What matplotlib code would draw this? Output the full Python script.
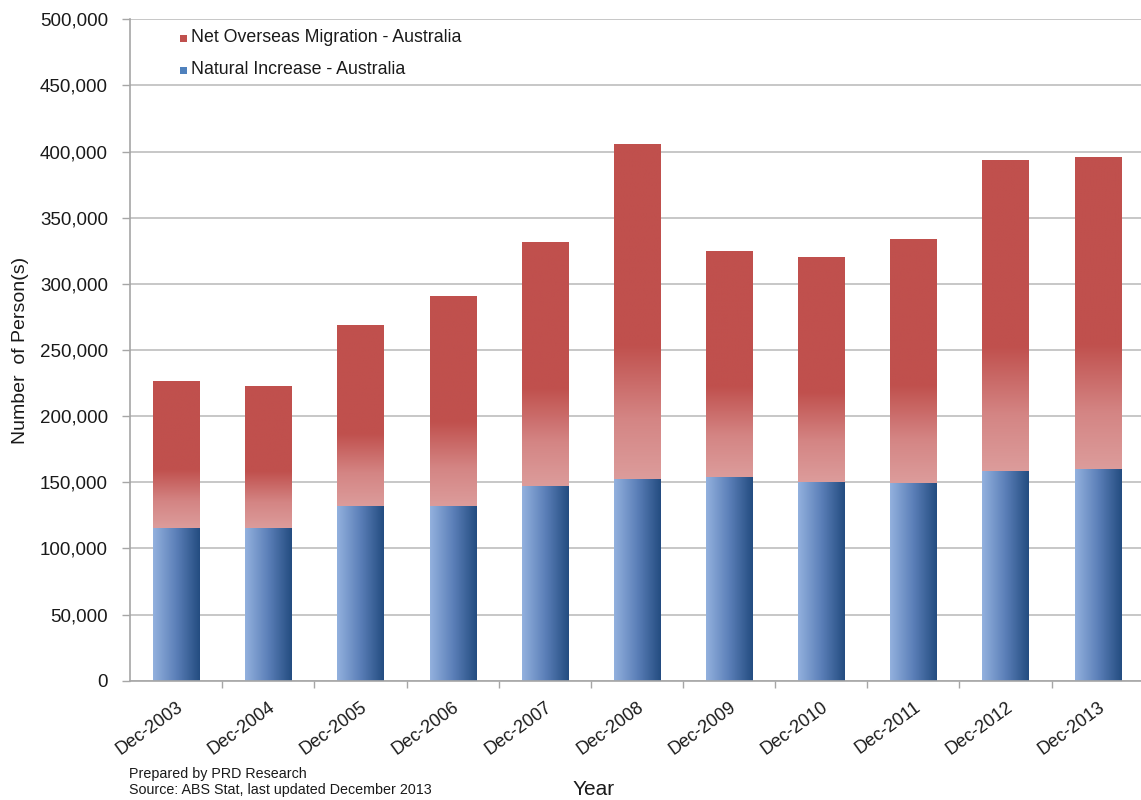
import numpy as np
import matplotlib
matplotlib.use("Agg")
import matplotlib.pyplot as plt
from matplotlib.colors import LinearSegmentedColormap
from matplotlib.patches import Rectangle
from matplotlib.ticker import FuncFormatter, FixedLocator

plt.rcParams['font.family'] = ['Liberation Sans', 'DejaVu Sans']

years = ["Dec-2003", "Dec-2004", "Dec-2005", "Dec-2006", "Dec-2007", "Dec-2008",
         "Dec-2009", "Dec-2010", "Dec-2011", "Dec-2012", "Dec-2013"]
natural_increase = [115600, 115600, 132200, 132000, 147300, 152600,
                    154000, 150300, 149500, 158600, 160100]
net_migration = [111000, 107200, 136700, 158800, 184300, 253000,
                 170800, 169900, 184300, 234900, 235700]

red_cmap = LinearSegmentedColormap.from_list(
    "nom", [(0.0, "#DC9C9B"), (0.18, "#D48584"), (0.40, "#C0504D"), (1.0, "#C0504D")])
blue_cmap = LinearSegmentedColormap.from_list(
    "nat", [(0.0, "#93B1DE"), (0.5, "#5B7FB8"), (1.0, "#234C80")])

fig = plt.figure(figsize=(11.41, 8.0), dpi=100)
ax = fig.add_axes([0.114, 0.149, 0.886, 0.827])

x = np.arange(len(years))
width = 0.5

ax.set_axisbelow(True)
ax.yaxis.grid(True, color="#BEBEBE", linewidth=1.2)

h_grad = np.linspace(0, 1, 256).reshape(1, -1)
v_grad = np.linspace(0, 1, 256).reshape(-1, 1)

for xi, nat, mig in zip(x, natural_increase, net_migration):
    x0, x1 = xi - width / 2, xi + width / 2
    # natural increase: horizontal light-to-dark blue gradient
    rb = Rectangle((x0, 0), width, nat, facecolor="none", edgecolor="none", zorder=2)
    ax.add_patch(rb)
    im = ax.imshow(h_grad, cmap=blue_cmap, extent=[x0, x1, 0, nat],
                   aspect="auto", origin="lower", zorder=2, interpolation="bilinear")
    im.set_clip_path(rb)
    # net overseas migration: vertical pink-to-red gradient
    rr = Rectangle((x0, nat), width, mig, facecolor="none", edgecolor="none", zorder=2)
    ax.add_patch(rr)
    im2 = ax.imshow(v_grad, cmap=red_cmap, extent=[x0, x1, nat, nat + mig],
                    aspect="auto", origin="lower", zorder=2, interpolation="bilinear")
    im2.set_clip_path(rr)

ax.set_xlim(-0.5, 10.47)
ax.set_ylim(0, 500000)
ax.yaxis.set_major_locator(FixedLocator(np.arange(0, 500001, 50000)))
ax.yaxis.set_major_formatter(FuncFormatter(lambda v, p: f"{int(v):,}"))

ax.set_xticks(x)
ax.set_xticklabels(years, rotation=36, ha="right", rotation_mode="anchor", fontsize=13,
                   color="#1A1A1A")
ax.tick_params(axis="x", which="major", length=0, pad=13)
ax.set_xticks(np.arange(0.5, 10.5, 1.0), minor=True)
ax.tick_params(axis="x", which="minor", length=5, color="#A6A6A6", width=1)
ax.tick_params(axis="y", labelsize=13.5, length=6, color="#A6A6A6", width=1, pad=10,
               labelcolor="#1A1A1A")

for side in ["top", "right"]:
    ax.spines[side].set_visible(False)
for side in ["left", "bottom"]:
    ax.spines[side].set_color("#A6A6A6")
    ax.spines[side].set_linewidth(1.2)

ax.set_ylabel("Number  of Person(s)", fontsize=14, labelpad=8, color="#1A1A1A")
fig.text(0.520, 0.013, "Year", fontsize=15, ha="center", va="center", color="#1A1A1A")

fig.text(0.113, 0.032, "Prepared by PRD Research", fontsize=10.3, ha="left", va="center",
         color="#1A1A1A")
fig.text(0.113, 0.012, "Source: ABS Stat, last updated December 2013", fontsize=10.3,
         ha="left", va="center", color="#1A1A1A")

legend_items = [("Net Overseas Migration - Australia", "#C0504D"),
                ("Natural Increase - Australia", "#4F81BD")]
for i, (label, col) in enumerate(legend_items):
    yy = 0.953 - i * 0.040
    fig.patches.append(Rectangle((0.158, yy - 0.0055), 0.0055, 0.0085,
                                 transform=fig.transFigure, facecolor=col,
                                 edgecolor="none"))
    fig.text(0.167, yy, label, fontsize=12.8, ha="left", va="center", color="#1A1A1A")

fig.savefig("out.png", dpi=100)
